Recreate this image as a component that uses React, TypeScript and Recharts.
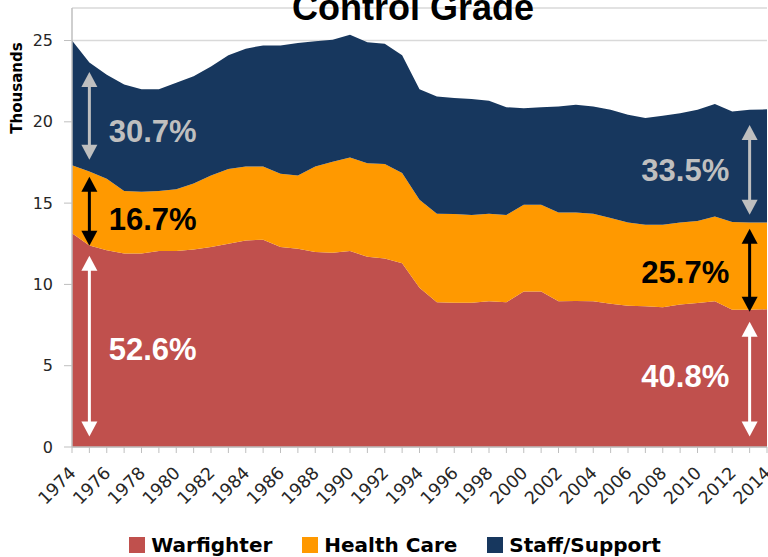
import React from 'react';
import {
  AreaChart,
  Area,
  XAxis,
  YAxis,
  CartesianGrid,
  Legend,
  ReferenceLine,
  ReferenceDot,
} from 'recharts';

const years = [
  1974, 1975, 1976, 1977, 1978, 1979, 1980, 1981, 1982, 1983,
  1984, 1985, 1986, 1987, 1988, 1989, 1990, 1991, 1992, 1993,
  1994, 1995, 1996, 1997, 1998, 1999, 2000, 2001, 2002, 2003,
  2004, 2005, 2006, 2007, 2008, 2009, 2010, 2011, 2012, 2013, 2014,
];

const warfighter = [
  13.15, 12.4, 12.1, 11.9, 11.9, 12.05, 12.05, 12.15, 12.3, 12.5,
  12.7, 12.75, 12.3, 12.2, 12.0, 11.95, 12.05, 11.7, 11.6, 11.3,
  9.8, 8.9, 8.87, 8.87, 8.96, 8.9, 9.57, 9.57, 8.96, 8.98,
  8.96, 8.81, 8.69, 8.65, 8.6, 8.76, 8.86, 8.96, 8.44, 8.44, 8.47,
];

const healthCare = [
  4.18, 4.55, 4.4, 3.85, 3.8, 3.7, 3.8, 4.05, 4.4, 4.6,
  4.55, 4.5, 4.5, 4.5, 5.25, 5.6, 5.75, 5.75, 5.8, 5.55,
  5.4, 5.45, 5.46, 5.4, 5.39, 5.37, 5.33, 5.33, 5.47, 5.45,
  5.39, 5.27, 5.12, 5.02, 5.07, 5.05, 5.04, 5.22, 5.4, 5.37, 5.34,
];

const staffSupport = [
  7.67, 6.7, 6.4, 6.55, 6.3, 6.25, 6.55, 6.6, 6.7, 7.0,
  7.25, 7.45, 7.9, 8.15, 7.7, 7.5, 7.55, 7.45, 7.4, 7.25,
  6.8, 7.21, 7.13, 7.13, 6.95, 6.63, 5.94, 6.0, 6.51, 6.62,
  6.59, 6.66, 6.62, 6.56, 6.7, 6.72, 6.84, 6.92, 6.79, 6.93, 6.96,
];

const yTicks = [0, 5, 10, 15, 20, 25];
const legendOrder = ['Warfighter', 'Health Care', 'Staff/Support'];

// annotation arrows: year, from value, to value, colour
const arrowYears = [1975, 1975, 1975, 2013, 2013, 2013];
const arrowFrom = [23.07, 16.62, 11.76, 19.81, 13.43, 7.71];
const arrowTo = [17.67, 12.38, 0.64, 14.29, 8.32, 0.64];
const arrowColors = ['#BFBFBF', '#000000', '#FFFFFF', '#BFBFBF', '#000000', '#FFFFFF'];

// annotation labels
const labelTexts = ['30.7%', '16.7%', '52.6%', '33.5%', '25.7%', '40.8%'];
const labelYears = [1976, 1976, 1976, 2012, 2012, 2012];
const labelValues = [19.38, 13.98, 5.99, 16.99, 10.72, 4.33];
const labelAnchors = ['start', 'start', 'start', 'end', 'end', 'end'];
const labelColors = ['#BFBFBF', '#000000', '#FFFFFF', '#BFBFBF', '#000000', '#FFFFFF'];

const COLORS = {
  warfighter: '#C0504D',
  health: '#FF9900',
  staff: '#17375E',
};

const data = years.map((year, i) => ({
  year,
  Warfighter: warfighter[i],
  'Health Care': healthCare[i],
  'Staff/Support': staffSupport[i],
}));

const DoubleArrow = (props: any) => {
  const { x1, y1, x2, y2, color } = props;
  const top = Math.min(y1, y2);
  const bottom = Math.max(y1, y2);
  const x = x1;
  const hl = 15;
  const hw = 8;
  return (
    <g>
      <line x1={x} y1={top + hl - 1} x2={x} y2={bottom - hl + 1} stroke={color} strokeWidth={3} />
      <polygon points={`${x},${top} ${x - hw},${top + hl} ${x + hw},${top + hl}`} fill={color} />
      <polygon points={`${x},${bottom} ${x - hw},${bottom - hl} ${x + hw},${bottom - hl}`} fill={color} />
    </g>
  );
};

const XTick = (props: any) => {
  const { x, y, payload } = props;
  if (payload.value % 2 !== 0) return null;
  return (
    <g transform={`translate(${x + 5},${y + 19})`}>
      <text
        x={0}
        y={0}
        textAnchor="end"
        transform="rotate(-45)"
        fill="#262626"
        fontSize={17.5}
        fontFamily="DejaVu Sans, sans-serif"
      >
        {payload.value}
      </text>
    </g>
  );
};

const LegendContent = (props: any) => {
  const payload = [...(props.payload || [])].sort(
    (a: any, b: any) => legendOrder.indexOf(a.value) - legendOrder.indexOf(b.value)
  );
  return (
    <div
      style={{
        display: 'flex',
        justifyContent: 'center',
        alignItems: 'center',
        paddingLeft: 22,
        fontFamily: 'DejaVu Sans, sans-serif',
        fontWeight: 'bold',
        fontSize: 20,
        color: '#000',
      }}
    >
      {payload.map((entry: any, i: number) => (
        <div key={i} style={{ display: 'flex', alignItems: 'center', marginRight: i < payload.length - 1 ? 30 : 0 }}>
          <span style={{ display: 'inline-block', width: 16, height: 16, background: entry.color, marginRight: 6 }} />
          <span>{entry.value}</span>
        </div>
      ))}
    </div>
  );
};

export default function App() {
  return (
    <div style={{ position: 'absolute', left: 0, top: 0, width: 768, height: 557, background: '#fff', overflow: 'hidden' }}>
      <div
        style={{
          position: 'absolute',
          left: 0,
          width: 826,
          top: -10,
          textAlign: 'center',
          fontFamily: 'Liberation Sans, Arial, sans-serif',
          fontWeight: 'bold',
          fontSize: 36,
          lineHeight: '36px',
          color: '#000',
          zIndex: 2,
        }}
      >
        Control Grade
      </div>
      <AreaChart width={768} height={557} data={data} margin={{ top: 8, right: 1, left: 0, bottom: 10 }}>
        <CartesianGrid vertical={false} stroke="#D9D9D9" strokeWidth={1.5} />
        <XAxis
          dataKey="year"
          interval={0}
          tick={<XTick />}
          tickSize={6}
          tickLine={{ stroke: '#BFBFBF' }}
          axisLine={{ stroke: '#BFBFBF', strokeWidth: 1.5 }}
          height={64}
        />
        <YAxis
          domain={[0, 27]}
          ticks={yTicks}
          width={72}
          tickSize={8}
          tickMargin={11}
          tickLine={{ stroke: '#BFBFBF' }}
          axisLine={{ stroke: '#BFBFBF', strokeWidth: 1.5 }}
          tick={{ fill: '#262626', fontSize: 16, fontFamily: 'DejaVu Sans, sans-serif' }}
          label={{
            content: (p: any) => {
              const vb = p.viewBox || { x: 0, y: 8 };
              const cx = vb.x + 17;
              const cy = vb.y + 80;
              return (
                <text
                  x={cx}
                  y={cy}
                  transform={`rotate(-90, ${cx}, ${cy})`}
                  textAnchor="middle"
                  dominantBaseline="central"
                  fontFamily="DejaVu Sans, sans-serif"
                  fontWeight="bold"
                  fontSize={15}
                  fill="#000"
                >
                  Thousands
                </text>
              );
            },
          }}
        />
        <Legend verticalAlign="bottom" height={36} content={<LegendContent />} wrapperStyle={{ top: 533, left: 0, width: 768 }} />
        <Area
          type="linear"
          dataKey="Warfighter"
          stackId="1"
          stroke="none"
          fill={COLORS.warfighter}
          fillOpacity={1}
          isAnimationActive={false}
        />
        <Area
          type="linear"
          dataKey="Health Care"
          stackId="1"
          stroke="none"
          fill={COLORS.health}
          fillOpacity={1}
          isAnimationActive={false}
        />
        <Area
          type="linear"
          dataKey="Staff/Support"
          stackId="1"
          stroke="none"
          fill={COLORS.staff}
          fillOpacity={1}
          isAnimationActive={false}
        />
        {arrowYears.map((yr, i) => (
          <ReferenceLine
            key={`arrow-${i}`}
            segment={[
              { x: yr, y: arrowFrom[i] },
              { x: yr, y: arrowTo[i] },
            ]}
            shape={(p: any) => <DoubleArrow {...p} color={arrowColors[i]} />}
          />
        ))}
        {labelTexts.map((t, i) => (
          <ReferenceDot
            key={`label-${i}`}
            x={labelYears[i]}
            y={labelValues[i]}
            r={0}
            shape={(p: any) => (
              <text
                x={p.cx + (labelAnchors[i] === 'start' ? 2 : -3)}
                y={p.cy}
                textAnchor={labelAnchors[i] as any}
                dominantBaseline="central"
                fontFamily="Liberation Sans, Arial, sans-serif"
                fontWeight="bold"
                fontSize={31}
                fill={labelColors[i]}
              >
                {t}
              </text>
            )}
          />
        ))}
      </AreaChart>
    </div>
  );
}
